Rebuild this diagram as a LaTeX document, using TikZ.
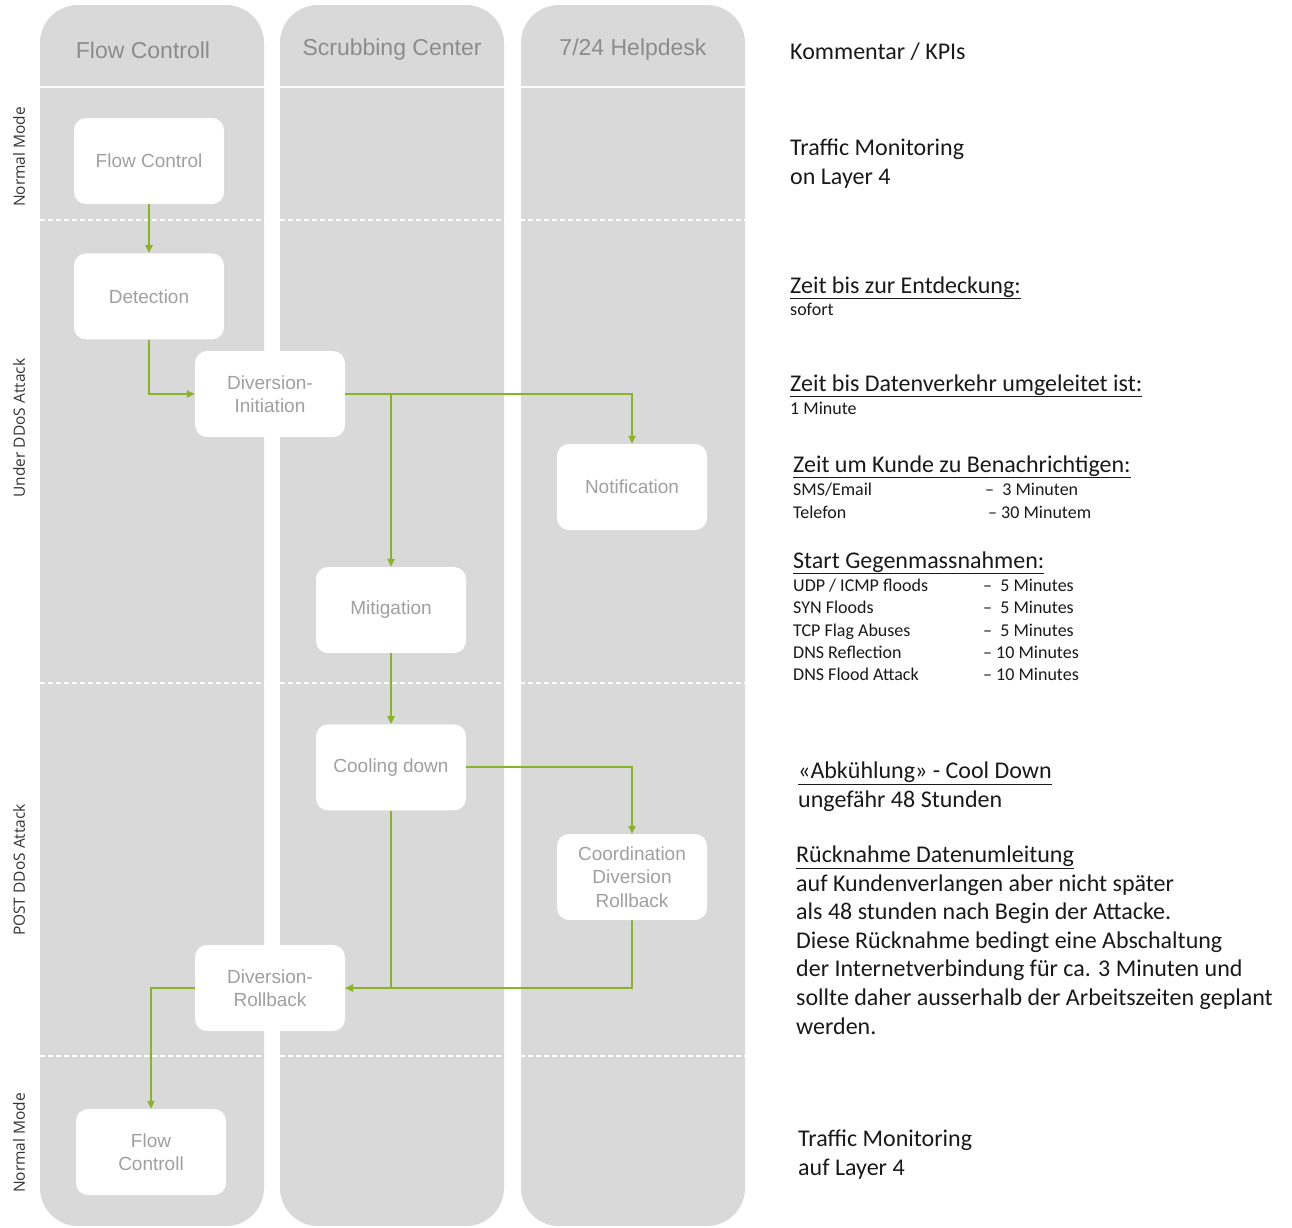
\documentclass[tikz,border=0pt]{standalone}
\usepackage{fontspec}
\setmainfont{Carlito}
\newfontfamily\helv{Liberation Sans}
\newfontfamily\opensans{Open Sans}
\usetikzlibrary{arrows.meta,positioning,calc}
\definecolor{lanegray}{HTML}{D9D9D9}
\definecolor{headgray}{HTML}{8C8C8C}
\definecolor{boxgray}{HTML}{A0A0A0}
\definecolor{flowgreen}{RGB}{137,180,40}
\newcommand\kpibig{\fontsize{24}{28.6}\selectfont}
\newcommand\kpismall{\fontsize{18}{22.4}\selectfont}
\begin{document}
\begin{tikzpicture}[x=1pt,y=-1pt,
 lane/.style={fill=lanegray,rounded corners=38pt},
 head/.style={font=\helv\fontsize{23}{28}\selectfont,text=headgray},
 box/.style={fill=white,rounded corners=12pt,minimum width=150pt,minimum height=86pt,inner sep=0pt,align=center,font=\helv\fontsize{19}{23.5}\selectfont,text=boxgray},
 phase/.style={white,line width=1.5pt,dash pattern=on 5pt off 3pt},
 rot/.style={rotate=90,font=\opensans\fontsize{15.5}{18}\selectfont,text=black!80},
 kpi/.style={anchor=base west,align=left,inner sep=0pt,font=\kpibig,text=black!90},
 kpis/.style={anchor=base west,inner sep=0pt,font=\kpismall,text=black!90},
 arr/.style={-{Triangle[length=8pt,width=7pt]},draw=flowgreen,line width=2pt}]
\useasboundingbox (0,0) rectangle (1292,1227);
\foreach \x/\t/\d [count=\i] in {40/{Flow Controll}/-9,280/{Scrubbing Center}/0,521/{7/24 Helpdesk}/0}{
 \fill[lane] (\x,5) rectangle ++(224,1221);
 \node[head] (h\i) at (\x+112+\d,50) {\t};
}
\draw[white,line width=2.5pt] (40,87) -- (745,87);
\foreach \y in {220,683,1056} \draw[phase] (40,\y) -- (745,\y);
\node[rot] (m1) at (19,157) {Normal Mode};
\node[rot] (m2) at (19,428) {Under DDoS Attack};
\node[rot] (m3) at (19,870) {POST DDoS Attack};
\node[rot] (m4) at (19,1143) {Normal Mode};
\node[box] (fc) at (149,161) {Flow Control};
\node[box,below=49pt of fc] (det) {Detection};
\node[box] (divi) at (270,394) {Diversion-\\Initiation};
\node[box] (note) at (632,487) {Notification};
\node[box] (mit) at (391,610) {Mitigation};
\node[box,below=71pt of mit] (cool) {Cooling down};
\node[box] (coord) at (632,877) {Coordination\\Diversion\\Rollback};
\node[box] (divr) at (270,988) {Diversion-\\Rollback};
\node[box] (fc2) at (151,1152) {Flow\\Controll};
\draw[arr] (fc) -- (det);
\draw[arr] (det.south) |- (divi.west);
\draw[arr] (divi.east) -| (note.north);
\draw[arr] (divi.east -| mit.north) -- (mit.north);
\draw[arr] (mit) -- (cool);
\draw[arr] (cool.east) -| (coord.north);
\draw[arr] (cool.south) |- (divr.east);
\draw[arr] (coord.south) |- (divr.east);
\draw[arr] (divr.west) -| (fc2.north);
\node[kpi] (k0) at (790,59) {Kommentar / KPIs};
\node[kpi] (k1) at (790,184) {Traffic Monitoring\\on Layer 4};
\node[kpi] (k2) at (790,293) {\underline{Zeit bis zur Entdeckung:}};
\node[kpis] (k2a) at (790,315) {sofort};
\node[kpi] (k3) at (790,391) {\underline{Zeit bis Datenverkehr umgeleitet ist:}};
\node[kpis] (k3a) at (790,414) {1 Minute};
\node[kpi] (k4) at (793,472) {\underline{Zeit um Kunde zu Benachrichtigen:}};
\node[kpis] (k4a) at (793,495) {SMS/Email};
\node[kpis] (k4b) at (985,495) {–\ \ 3 Minuten};
\node[kpis] (k4c) at (793,518) {Telefon};
\node[kpis] (k4d) at (988,518) {– 30 Minutem};
\node[kpi] (k5) at (793,568) {\underline{Start Gegenmassnahmen:}};
\foreach \y/\a/\b [count=\i] in {591/{UDP / ICMP floods}/{–\ \ 5 Minutes},613/{SYN Floods}/{–\ \ 5 Minutes},636/{TCP Flag Abuses}/{–\ \ 5 Minutes},658/{DNS Reflection}/{– 10 Minutes},680/{DNS Flood Attack}/{– 10 Minutes}}{
 \node[kpis] (g\i) at (793,\y) {\a};
 \node[kpis] (t\i) at (983,\y) {\b};
}
\node[kpi] (k6) at (798,807) {\underline{«Abkühlung» - Cool Down}\\ungefähr 48 Stunden};
\node[kpi] (k7) at (796,1034) {\underline{Rücknahme Datenumleitung}\\auf Kundenverlangen aber nicht später\\als 48 stunden nach Begin der Attacke.\\Diese Rücknahme bedingt eine Abschaltung\\der Internetverbindung für ca. 3 Minuten und\\sollte daher ausserhalb der Arbeitszeiten geplant\\werden.};
\node[kpi] (k8) at (798,1175) {Traffic Monitoring\\auf Layer 4};
\end{tikzpicture}
\end{document}
